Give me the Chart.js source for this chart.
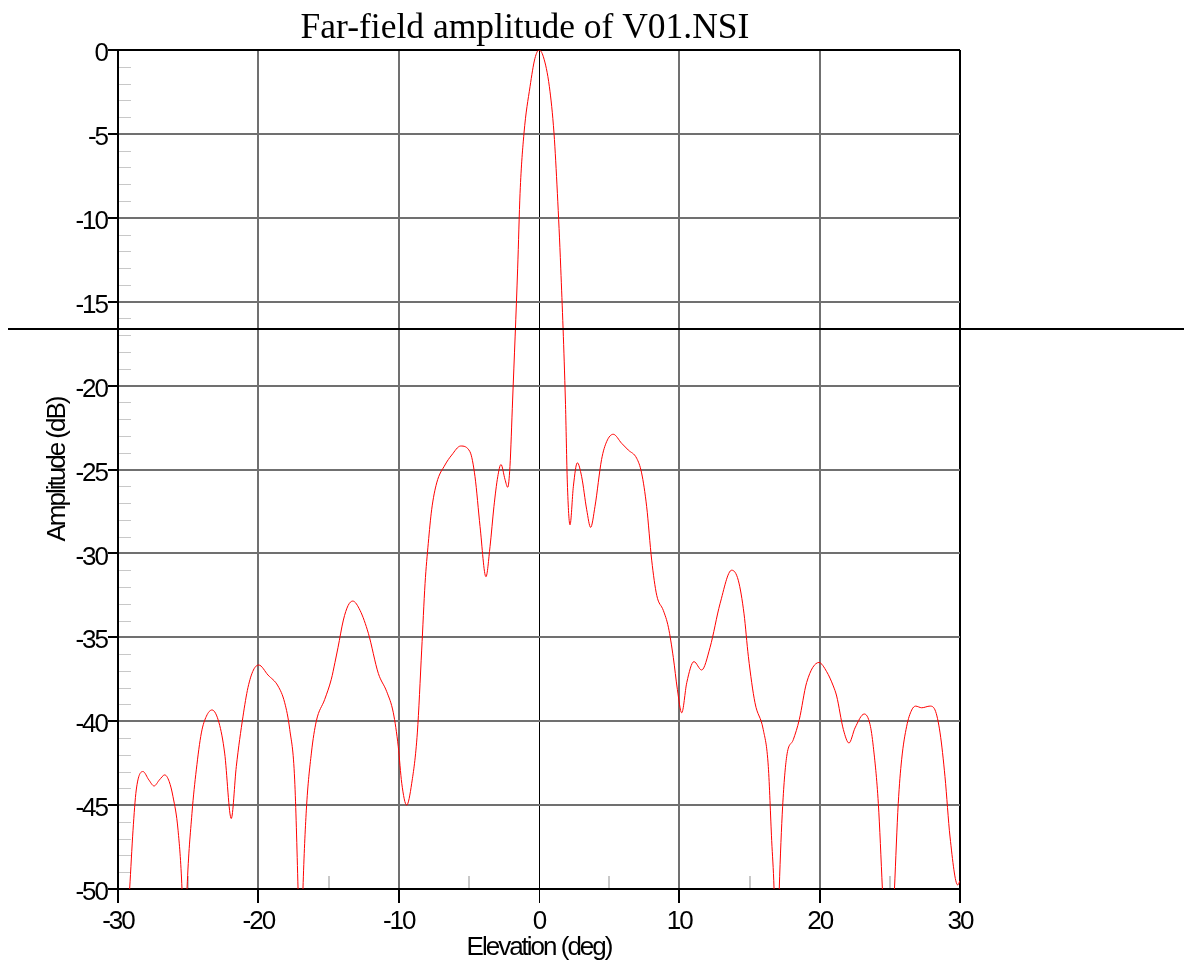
<!DOCTYPE html>
<html>
<head>
<meta charset="utf-8">
<script src="https://cdn.jsdelivr.net/npm/chart.js@4.4.1/dist/chart.umd.min.js"></script>
<style>
  html, body { margin: 0; padding: 0; background: #fff; }
  #wrap { width: 1184px; height: 963px; }
</style>
</head>
<body>
<div id="wrap"><canvas id="farfield"></canvas></div>
<script>
// elevation angle (deg) and far-field amplitude (dB)
const elevation = [
  -29.40, -29.17, -28.93, -28.70, -28.22, -27.80, -27.43, -27.05, -26.67, -26.35,
  -26.08, -25.72, -25.44, -25.26, -25.08, -24.73, -24.42, -24.06, -23.70, -23.30,
  -22.80, -22.40, -21.93, -21.57, -21.09, -20.74, -20.35, -19.97, -19.31, -18.60,
  -18.12, -17.76, -17.41, -17.17, -17.00, -16.82, -16.58, -16.22, -15.87, -15.27,
  -14.80, -14.54, -14.32, -13.94, -13.60, -13.27, -12.75, -12.16, -11.45, -10.85,
  -10.38, -10.03, -9.78, -9.43, -9.07, -8.67, -8.36, -8.12, -7.89, -7.65,
  -7.29, -6.70, -6.22, -5.58, -4.92, -4.56, -4.20, -3.78, -3.49, -3.21,
  -2.94, -2.71, -2.42, -2.23, -2.07, -1.88, -1.52, -1.35, -1.07, -0.64,
  -0.29, 0.00, 0.31, 0.74, 1.07, 1.31, 1.55, 1.88, 2.02, 2.21,
  2.45, 2.73, 3.04, 3.40, 3.68, 3.99, 4.46, 4.82, 5.29, 5.89,
  6.36, 6.96, 7.31, 7.67, 8.03, 8.39, 8.86, 9.22, 9.57, 9.86,
  10.17, 10.53, 11.04, 11.59, 12.19, 12.90, 13.73, 14.20, 14.61, 14.92,
  15.39, 15.98, 16.34, 16.58, 16.75, 16.93, 17.12, 17.36, 17.65, 18.12,
  18.55, 19.07, 19.95, 20.50, 20.97, 21.21, 21.69, 22.09, 22.52, 23.18,
  23.59, 23.82, 24.18, 24.47, 24.90, 25.33, 25.60, 25.84, 26.20, 26.56,
  26.84, 27.27, 27.86, 28.22, 28.58, 28.93, 29.29, 29.84, 30.00
];
const amplitude = [
  -53, -50, -46.5, -44.1, -43.0, -43.5, -43.86, -43.5, -43.2, -43.6,
  -44.5, -46.5, -50, -55, -50, -45.5, -42.9, -40.7, -39.7, -39.33,
  -40.1, -41.9, -45.8, -42.7, -39.7, -38.0, -36.95, -36.65, -37.25, -37.9,
  -38.9, -40.5, -43.5, -50, -56, -50, -45.3, -41.9, -40.0, -38.7,
  -37.5, -36.5, -35.6, -33.97, -33.1, -32.84, -33.4, -34.76, -37.15, -38.24,
  -39.5, -41.5, -43.7, -45.0, -43.7, -40.7, -35.76, -31.8, -29.4, -27.4,
  -25.8, -24.73, -24.14, -23.6, -23.94, -25.43, -28.4, -31.39, -29.6, -27.2,
  -25.43, -24.7, -25.6, -26.06, -24.83, -20.86, -13.0, -8.54, -4.97, -2.19,
  -0.5, 0, -0.4, -2.19, -4.97, -8.54, -13.0, -20.86, -25.8, -28.3,
  -26.0, -24.6, -25.43, -27.4, -28.45, -27.2, -24.4, -23.34, -22.9, -23.44,
  -23.84, -24.33, -25.2, -27.2, -30.4, -32.5, -33.4, -34.4, -36.2, -38.1,
  -39.5, -37.7, -36.45, -36.95, -35.6, -33.0, -31.0, -31.6, -33.6, -36.15,
  -38.9, -40.5, -42.7, -47.1, -50, -56, -50, -45.1, -42.1, -41.1,
  -39.9, -37.7, -36.5, -37.05, -37.9, -38.5, -40.5, -41.3, -40.4, -39.57,
  -40.2, -41.5, -44.9, -50, -58, -50, -44.9, -42.3, -40.3, -39.33,
  -39.1, -39.2, -39.1, -39.33, -40.7, -43.3, -46.9, -49.76, -49.5
];
const xMinorTicks = [-25, -15, -5, 5, 15, 25];
const refLevel = -16.65;

const sans = "'Liberation Sans', Arial, sans-serif";

const extras = {
  id: 'extras',
  beforeDraw(chart) {
    // the reference uses tightly spaced axis text
    chart.ctx.letterSpacing = '-2px';
  },
  beforeDatasetsDraw(chart) {
    const { ctx, chartArea: a, scales: { x, y } } = chart;
    ctx.save();
    ctx.strokeStyle = '#c8c8c8';
    ctx.lineWidth = 1;
    for (let v = -49; v < 0; v++) {
      if (v % 5 === 0) continue;
      const py = Math.round(y.getPixelForValue(v)) + 0.5;
      ctx.beginPath();
      ctx.moveTo(a.left + 1, py);
      ctx.lineTo(a.left + 13, py);
      ctx.stroke();
    }
    ctx.lineWidth = 2;
    xMinorTicks.forEach(v => {
      const px = Math.round(x.getPixelForValue(v));
      ctx.beginPath();
      ctx.moveTo(px, a.bottom - 13);
      ctx.lineTo(px, a.bottom - 1);
      ctx.stroke();
    });
    ctx.restore();
  },
  afterDraw(chart) {
    const { ctx, scales: { y } } = chart;
    ctx.save();
    ctx.letterSpacing = '0px';
    ctx.strokeStyle = '#000';
    ctx.lineWidth = 2;
    const py = Math.round(y.getPixelForValue(refLevel));
    ctx.beginPath();
    ctx.moveTo(8, py);
    ctx.lineTo(chart.width, py);
    ctx.stroke();

    ctx.fillStyle = '#000';
    ctx.font = "35.5px 'Liberation Serif', 'Times New Roman', serif";
    ctx.textAlign = 'center';
    ctx.textBaseline = 'alphabetic';
    ctx.fillText('Far-field amplitude of V01.NSI', 525, 38);
    ctx.restore();
  }
};

new Chart(document.getElementById('farfield'), {
  type: 'line',
  data: {
    datasets: [{
      data: elevation.map((e, i) => ({ x: e, y: amplitude[i] })),
      borderColor: '#ff0000',
      borderWidth: 1,
      pointRadius: 0,
      cubicInterpolationMode: 'monotone',
      fill: false
    }]
  },
  options: {
    responsive: true,
    maintainAspectRatio: false,
    animation: false,
    layout: { padding: { left: 0, top: 50, right: 224, bottom: 0 } },
    plugins: { legend: { display: false }, tooltip: { enabled: false } },
    scales: {
      x: {
        type: 'linear',
        min: -30, max: 30,
        afterFit: s => { s.height = 74; },
        ticks: { stepSize: 10, color: '#000', padding: 3, font: { family: sans, size: 26 } },
        grid: {
          color: c => (c.tick.value === 0 || c.tick.value === 30) ? '#000' : '#707070',
          lineWidth: c => c.tick.value === 0 ? 1 : 2,
          tickColor: '#000',
          tickLength: 14
        },
        border: { display: true, color: '#000', width: 2 },
        title: {
          display: true, text: 'Elevation (deg)', color: '#000',
          padding: { top: 0, bottom: 0 },
          font: { family: sans, size: 26 }
        }
      },
      y: {
        min: -50, max: 0,
        afterFit: s => { s.width = 118; },
        ticks: { stepSize: 5, color: '#000', padding: 1, labelOffset: 4, font: { family: sans, size: 26 } },
        grid: {
          color: c => c.tick.value === 0 ? '#000' : '#707070',
          lineWidth: 2,
          tickColor: '#000',
          tickLength: 10
        },
        border: { display: true, color: '#000', width: 2 },
        title: {
          display: true, text: 'Amplitude (dB)', color: '#000',
          padding: { top: 42, bottom: 0 },
          font: { family: sans, size: 26 }
        }
      }
    }
  },
  plugins: [extras]
});
</script>
</body>
</html>
